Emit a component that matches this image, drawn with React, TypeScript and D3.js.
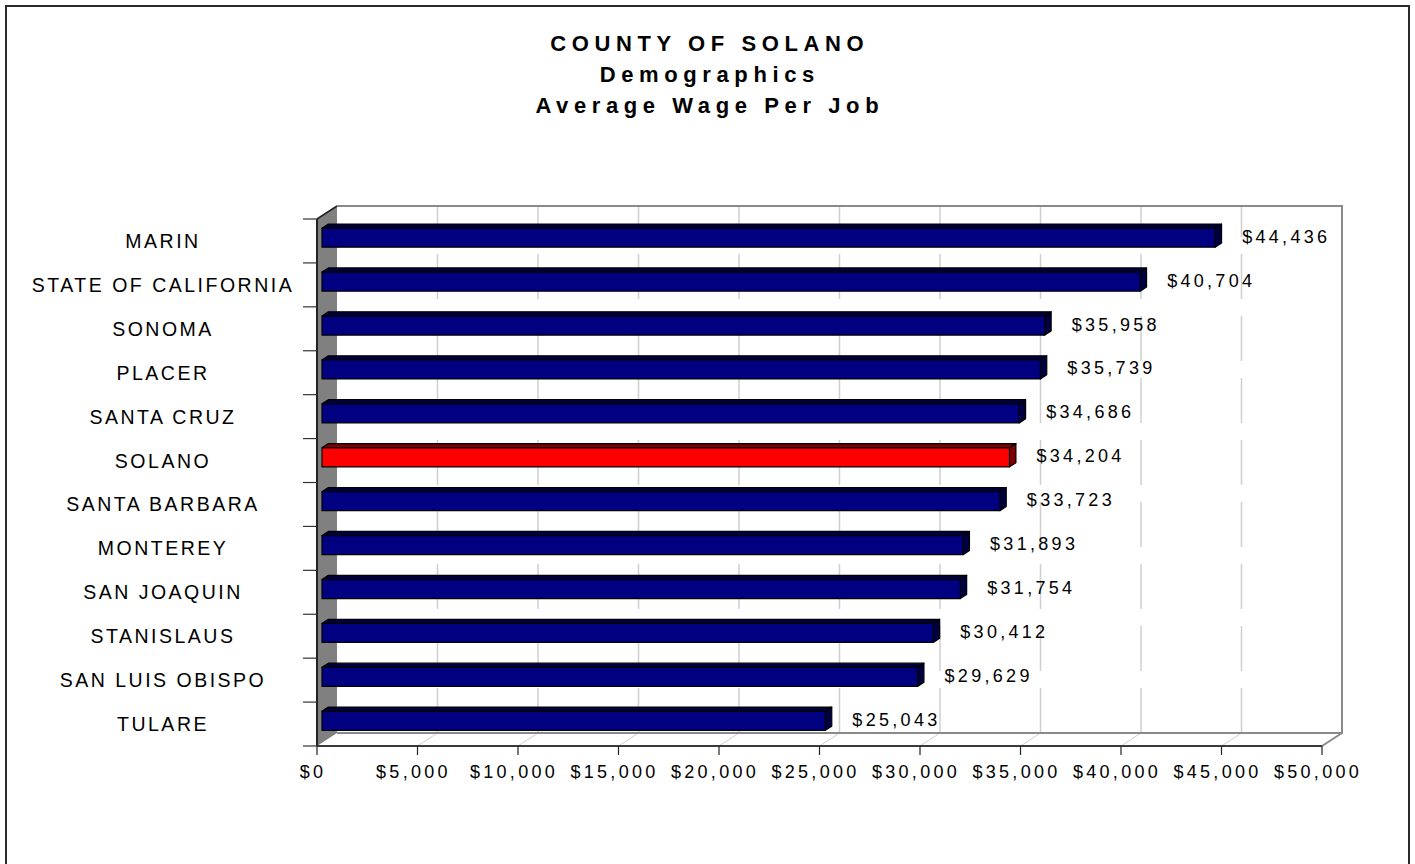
import React from "react";
import * as d3 from "d3";

const categories = [
  "MARIN",
  "STATE OF CALIFORNIA",
  "SONOMA",
  "PLACER",
  "SANTA CRUZ",
  "SOLANO",
  "SANTA BARBARA",
  "MONTEREY",
  "SAN JOAQUIN",
  "STANISLAUS",
  "SAN LUIS OBISPO",
  "TULARE",
];
const wages = [44436, 40704, 35958, 35739, 34686, 34204, 33723, 31893, 31754, 30412, 29629, 25043];
const highlighted = ["SOLANO"];
const xTicks = [0, 5000, 10000, 15000, 20000, 25000, 30000, 35000, 40000, 45000, 50000];
const titleLines = ["COUNTY OF SOLANO", "Demographics", "Average Wage Per Job"];

const W = 1415;
const H = 864;
const FONT = "'Liberation Sans', Arial, Helvetica, sans-serif";

export default function App() {
  // front plane
  const left = 317;
  const right = 1322;
  const top = 219;
  const bottom = 746;
  // depth offset of the 3D box
  const DX = 20;
  const DY = -13;
  const f1 = 0.25;
  const f2 = 0.57;

  const x = d3.scaleLinear().domain([0, 50000]).range([left, right]);
  const pad = 0.567;
  const y = d3
    .scaleBand<string>()
    .domain(categories)
    .range([top, bottom])
    .paddingInner(pad)
    .paddingOuter(pad / 2);
  const step = y.step();
  const bw = y.bandwidth();
  const fmt = d3.format("$,");

  const dd = (f2 - f1) * DX;
  const ddy = (f2 - f1) * DY;

  const fx = (v: number) => x(v) + f1 * DX;
  const fy = (c: string) => (y(c) as number) + f1 * DY;

  const pts = (a: number[][]) => a.map((p) => p.join(",")).join(" ");

  return (
    <svg
      width={W}
      height={H}
      style={{ position: "absolute", left: 0, top: 0, background: "#fff" }}
      fontFamily={FONT}
    >
      <rect x={0} y={0} width={W} height={H} fill="#fff" />
      {/* outer border */}
      <rect x={6} y={6} width={1403} height={920} fill="none" stroke="#2a2a2a" strokeWidth={2} />

      {/* title */}
      {titleLines.map((t, i) => (
        <text
          key={t}
          x={707 + 2.8}
          y={51 + i * 31}
          textAnchor="middle"
          fontSize={22}
          fontWeight="bold"
          letterSpacing={5.6}
          fill="#000"
        >
          {t}
        </text>
      ))}

      {/* back wall */}
      <rect x={left + DX} y={top + DY} width={right - left} height={bottom - top} fill="#fff" />

      {/* gridlines on back wall */}
      {xTicks
        .filter((t) => t > 0 && t < 50000)
        .map((t) => (
          <g key={"g" + t}>
            <line
              x1={x(t) + DX}
              x2={x(t) + DX}
              y1={bottom + DY}
              y2={top + DY}
              stroke="#cfcfcf"
              strokeWidth={1.5}
              strokeDasharray="45 17"
            />
            <line
              x1={x(t)}
              y1={bottom}
              x2={x(t) + DX}
              y2={bottom + DY}
              stroke="#cfcfcf"
              strokeWidth={1}
            />
          </g>
        ))}

      {/* back wall edges */}
      <polyline
        points={pts([
          [left + DX, top + DY],
          [right + DX, top + DY],
          [right + DX, bottom + DY],
          [left + DX, bottom + DY],
        ])}
        fill="none"
        stroke="#8a8a8a"
        strokeWidth={2}
      />
      <line x1={right} y1={bottom} x2={right + DX} y2={bottom + DY} stroke="#8a8a8a" strokeWidth={2} />

      {/* left side wall */}
      <polygon
        points={pts([
          [left, top],
          [left + DX, top + DY],
          [left + DX, bottom + DY],
          [left, bottom],
        ])}
        fill="#808080"
      />
      <line x1={left} y1={top} x2={left + DX} y2={top + DY} stroke="#222" strokeWidth={1.5} />

      {/* bars */}
      {categories.map((c, i) => {
        const v = wages[i];
        const hi = highlighted.includes(c);
        const front = hi ? "#ff0000" : "#000080";
        const dark = hi ? "#800000" : "#000040";
        const xs = fx(0);
        const xe = fx(v);
        const yt = fy(c);
        const yb = yt + bw;
        return (
          <g key={c} stroke="#000" strokeWidth={1.2} strokeLinejoin="round">
            <polygon
              points={pts([
                [xs, yt],
                [xe, yt],
                [xe + dd, yt + ddy],
                [xs + dd, yt + ddy],
              ])}
              fill={dark}
            />
            <polygon
              points={pts([
                [xe, yt],
                [xe + dd, yt + ddy],
                [xe + dd, yb + ddy],
                [xe, yb],
              ])}
              fill={dark}
            />
            <rect x={xs} y={yt} width={xe - xs} height={bw} fill={front} />
          </g>
        );
      })}

      {/* value labels */}
      {categories.map((c, i) => (
        <text
          key={"v" + c}
          x={fx(wages[i]) + 27}
          y={fy(c) + bw / 2 + 5}
          fontSize={18}
          letterSpacing={3.3}
          fill="#000"
        >
          {fmt(wages[i])}
        </text>
      ))}

      {/* left axis */}
      <line x1={left} y1={top} x2={left} y2={bottom} stroke="#222" strokeWidth={2} />
      {d3.range(categories.length + 1).map((k) => (
        <line
          key={"lt" + k}
          x1={303}
          x2={left}
          y1={top + k * step}
          y2={top + k * step}
          stroke="#333"
          strokeWidth={1.2}
        />
      ))}
      {categories.map((c) => (
        <text
          key={"c" + c}
          x={163}
          y={(y(c) as number) + bw / 2 + 7}
          textAnchor="middle"
          fontSize={19.5}
          letterSpacing={2.5}
          fill="#000"
        >
          {c}
        </text>
      ))}

      {/* bottom axis */}
      <line x1={left} y1={bottom} x2={right} y2={bottom} stroke="#3a3a3a" strokeWidth={2} />
      {xTicks.map((t) => (
        <g key={"xt" + t}>
          <line x1={x(t)} x2={x(t)} y1={bottom} y2={bottom + 9} stroke="#222" strokeWidth={1.2} />
          <text
            x={x(t) - 4}
            y={778}
            textAnchor="middle"
            fontSize={18}
            letterSpacing={3.3}
            fill="#000"
          >
            {fmt(t)}
          </text>
        </g>
      ))}
    </svg>
  );
}
